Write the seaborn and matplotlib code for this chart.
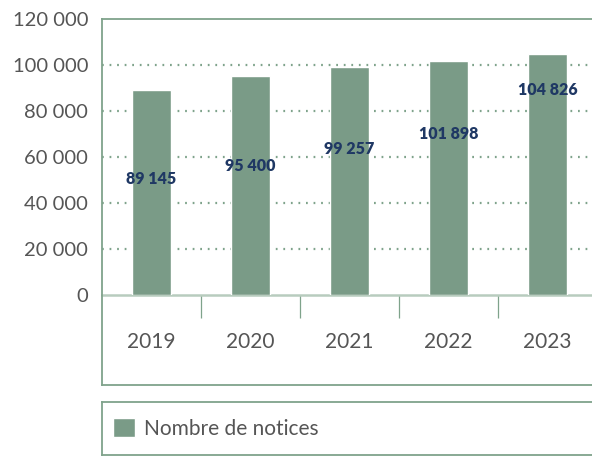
import numpy as np
import matplotlib
matplotlib.use('Agg')
import matplotlib.pyplot as plt
import seaborn as sns
import pandas as pd

sns.set_theme(style="white")
plt.rcParams['font.family'] = ['Lato', 'DejaVu Sans']

years = ['2019', '2020', '2021', '2022', '2023']
notices = [89145, 95400, 99257, 101898, 104826]
label_y = [50500, 56300, 63600, 70100, 89200]
series_name = 'Nombre de notices'
y_ticks = [0, 20000, 40000, 60000, 80000, 100000, 120000]

green = '#7a9b87'
line_green = '#7fa38b'
navy = '#1f3864'
gray = '#555555'

df = pd.DataFrame({'annee': years, 'notices': notices})

W, H = 592, 457
fig = plt.figure(figsize=(W / 100, H / 100), dpi=100)

def fx(px):
    return px / W

def fy(py):
    return 1 - py / H

# main plot area
ax = fig.add_axes([fx(102), fy(295), fx(597 - 102), fy(19) - fy(295)])
sns.barplot(data=df, x='annee', y='notices', color=green, width=0.385,
            saturation=1, ax=ax, label=series_name, zorder=3)
if ax.get_legend() is not None:
    ax.get_legend().remove()
ax.set_xlim(-0.5, len(years) - 0.5)
ax.set_ylim(0, 120000)
ax.set_xlabel('')
ax.set_ylabel('')

for t in y_ticks[1:-1]:
    ax.axhline(t, color=line_green, lw=1.6, ls=(0, (0.8, 2.6)), zorder=1)

ax.set_yticks(y_ticks)
ax.set_yticklabels([f"{t:,}".replace(',', ' ') for t in y_ticks],
                   fontsize=14.5, color=gray)
ax.tick_params(axis='y', length=0, pad=10)

# boundaries between categories as separators, labels on minor ticks
ax.set_xticks(np.arange(0.5, len(years) - 0.5, 1))
ax.set_xticklabels([])
ax.tick_params(axis='x', which='major', bottom=True, length=16.5, width=0.9,
               color=line_green, direction='out')
ax.set_xticks(np.arange(len(years)), minor=True)
ax.set_xticklabels(years, minor=True, fontsize=15, color=gray)
ax.tick_params(axis='x', which='minor', bottom=True, length=0, pad=27)

for sp in ['top', 'left']:
    ax.spines[sp].set_color(line_green)
    ax.spines[sp].set_linewidth(1.3)
ax.spines['right'].set_visible(False)
ax.spines['bottom'].set_color('#b8ccbe')
ax.spines['bottom'].set_linewidth(1.8)

for i, (v, ly) in enumerate(zip(notices, label_y)):
    ax.text(i, ly, f"{v:,}".replace(',', ' '), ha='center', va='center',
            fontsize=11.5, fontweight='heavy', color=navy, zorder=4)

# box under the category axis
box = fig.add_axes([fx(102), fy(385), fx(600 - 102), fy(295) - fy(385)])
box.set_xticks([])
box.set_yticks([])
box.patch.set_alpha(0)
for sp in ['top', 'right']:
    box.spines[sp].set_visible(False)
for sp in ['left', 'bottom']:
    box.spines[sp].set_color(line_green)
    box.spines[sp].set_linewidth(1.3)

# legend box
lbox = fig.add_axes([fx(102), fy(455), fx(600 - 102), fy(402) - fy(455)])
lbox.set_xticks([])
lbox.set_yticks([])
for sp in lbox.spines.values():
    sp.set_color(line_green)
    sp.set_linewidth(1.3)
handles, labels = ax.get_legend_handles_labels()
lbox.legend(handles, labels, loc='center left', frameon=False, fontsize=15,
            labelcolor=gray, handlelength=1.05, handleheight=1.05,
            handletextpad=0.45, borderaxespad=0.0, bbox_to_anchor=(0.005, 0.5))

fig.savefig('out.png', dpi=100)
